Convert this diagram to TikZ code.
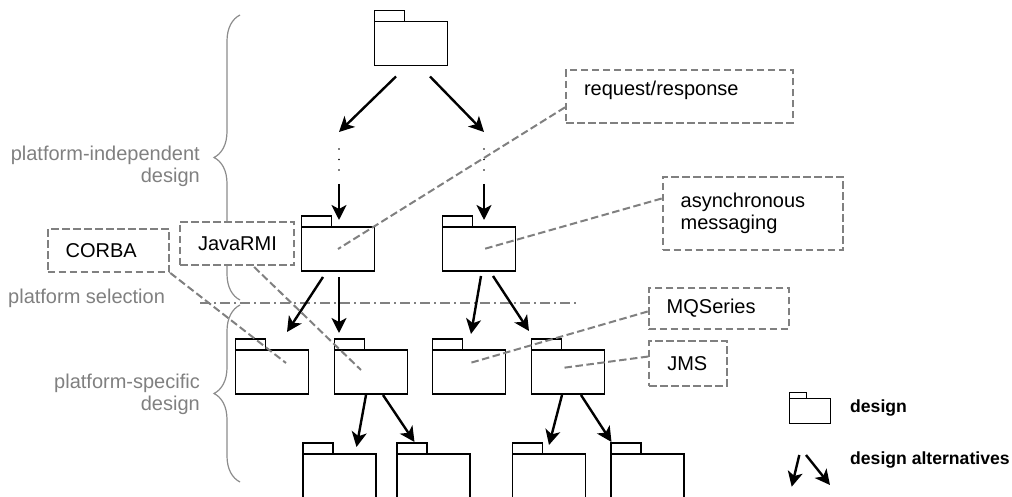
\documentclass[tikz,border=0pt]{standalone}
\usepackage{fontspec}
\setmainfont{Liberation Sans}
\usetikzlibrary{arrows.meta,decorations.pathreplacing}
\definecolor{notegray}{RGB}{128,128,128}
\definecolor{bracegray}{RGB}{140,140,140}
\hyphenpenalty=10000

\begin{document}
\begin{tikzpicture}[x=1pt,y=-1pt,
	font=\fontsize{20}{22}\selectfont,
	folder/.style={draw,line width=1.5pt,minimum width=73pt,minimum height=44pt,inner sep=0,outer sep=0,
		label={[anchor=south west,draw,line width=1.5pt,minimum width=30pt,minimum height=11pt,inner sep=0,outer sep=0]north west:{}}},
	smallfolder/.style={draw,line width=1.5pt,minimum width=41pt,minimum height=24.6pt,inner sep=0,outer sep=0,
		label={[anchor=south west,draw,line width=1.5pt,minimum width=17pt,minimum height=6pt,inner sep=0,outer sep=0]north west:{}}},
	alt/.style={line width=2.4pt,-{Stealth[length=15pt,width=15pt,inset=4pt]}},
	notebox/.style={draw=notegray,fill=white,line width=2pt,dash pattern=on 7.5pt off 3.5pt,anchor=north west,inner xsep=18pt,inner ysep=0pt,align=left},
	note/.style={draw=notegray,line width=2pt,dash pattern=on 7.5pt off 3.5pt},
	selectline/.style={draw=notegray,line width=2pt,dash pattern=on 10pt off 4pt on 2pt off 4pt},
	phase/.style={draw=bracegray,line width=1.2pt,decorate,decoration={brace,amplitude=26pt}},
	phaselabel/.style={text=notegray,inner sep=0,align=right},
	legend/.style={font=\bfseries\fontsize{17.6}{20}\selectfont,inner sep=0}]
	\useasboundingbox (0,0) rectangle (1012,497);
	\clip (0,0) rectangle (1012,497);
	\draw[phase] (240,300) -- (240,15);
	\draw[phase] (240,482) -- (240,305);
	\node[phaselabel,anchor=east] (indep) at (200,166) {platform-independent\\design};
	\node[phaselabel,anchor=west] (select) at (8,298) {platform selection};
	\node[phaselabel,anchor=east] (specific) at (200,394) {platform-specific\\design};
	\draw[selectline] (200,303) -- (576,303);
	\node[folder] (top) at (411,43.5) {};
	\node[folder] (midL) at (338,249) {};
	\node[folder] (midR) at (479,249) {};
	\node[folder] (corbaF) at (272,372) {};
	\node[folder] (rmiF) at (371,372) {};
	\node[folder] (mqF) at (469,372) {};
	\node[folder] (jmsF) at (568,372) {};
	\node[folder] (rmiA) at (339.5,476) {};
	\node[folder] (rmiB) at (433.5,476) {};
	\node[folder] (jmsA) at (549,476) {};
	\node[folder] (jmsB) at (647.5,476) {};
	\coordinate (dotsL) at (339,149);
	\coordinate (dotsLb) at (339,170);
	\coordinate (dotsR) at (484,149);
	\coordinate (dotsRb) at (484,170);
	\foreach \y in {149,159.5,170} {
		\fill (339,\y) circle (0.8);
		\fill (484,\y) circle (0.8);
	}
	\draw[alt] ([shift={(-15,11)}]top.south) -- ([shift={(0,-17)}]dotsL);
	\draw[alt] ([shift={(19,11)}]top.south) -- ([shift={(0,-17)}]dotsR);
	\draw[alt] ([shift={(0,14)}]dotsLb) -- ([shift={(1,-7)}]midL.north);
	\draw[alt] ([shift={(0,14)}]dotsRb) -- ([shift={(5,-7)}]midR.north);
	\draw[alt] ([shift={(-15,6)}]midL.south) -- ([shift={(15,-18)}]corbaF.north);
	\draw[alt] ([shift={(1,6)}]midL.south) -- ([shift={(-32,-17)}]rmiF.north);
	\draw[alt] ([shift={(2,5)}]midR.south) -- ([shift={(2,-16)}]mqF.north);
	\draw[alt] ([shift={(14,5)}]midR.south) -- ([shift={(-39,-19)}]jmsF.north);
	\draw[alt] ([shift={(-5,1)}]rmiF.south) -- ([shift={(17,-7)}]rmiA.north);
	\draw[alt] ([shift={(12,1)}]rmiF.south) -- ([shift={(-19,-12)}]rmiB.north);
	\draw[alt] ([shift={(-6,1)}]jmsF.south) -- ([shift={(0,-9)}]jmsA.north);
	\draw[alt] ([shift={(13,1)}]jmsF.south) -- ([shift={(-36,-12)}]jmsB.north);
	\node[notebox,text width=190.7pt,minimum height=52.7pt,text depth=16pt] (reqresp) at (565,69) {request/response};
	\node[notebox,text width=144.6pt,minimum height=73pt,text depth=26pt] (async) at (661.7,176) {asynchronous\\messaging};
	\node[notebox,text width=85.6pt,minimum height=42.7pt] (corba) at (46.7,228.3) {CORBA};
	\node[notebox,text width=78.3pt,minimum height=43.3pt] (rmi) at (179,220.7) {JavaRMI};
	\node[notebox,text width=104pt,minimum height=41.6pt] (mq) at (647.7,286.7) {MQSeries};
	\node[notebox,text width=41.7pt,minimum height=45pt] (jms) at (648.3,340) {JMS};
	\draw[note] ([shift={(0,11)}]reqresp.west) -- (midL.center);
	\draw[note] ([shift={(0,-15)}]async.west) -- ([shift={(5,0)}]midR.center);
	\draw[note] (corba.south east) -- ([shift={(14,-9)}]corbaF.center);
	\draw[note] ([shift={(17,1)}]rmi.south) -- ([shift={(-10,-2)}]rmiF.center);
	\draw[note] ([shift={(0,3)}]mq.west) -- ([shift={(1,-9)}]mqF.center);
	\draw[note] ([shift={(0,-7)}]jms.west) -- ([shift={(-6,-4)}]jmsF.center);
	\node[smallfolder] (legfolder) at (809.8,411) {};
	\node[legend,anchor=base west] (legdesign) at (850,412.7) {design};
	\node[legend,anchor=base west] (legalt) at (850,464.3) {design alternatives};
	\coordinate (legA) at (799.3,455);
	\coordinate (legAe) at (791.7,486.7);
	\coordinate (legB) at (806,455);
	\coordinate (legBe) at (830,485);
	\draw[alt] (legA) -- (legAe);
	\draw[alt] (legB) -- (legBe);
\end{tikzpicture}
\end{document}
